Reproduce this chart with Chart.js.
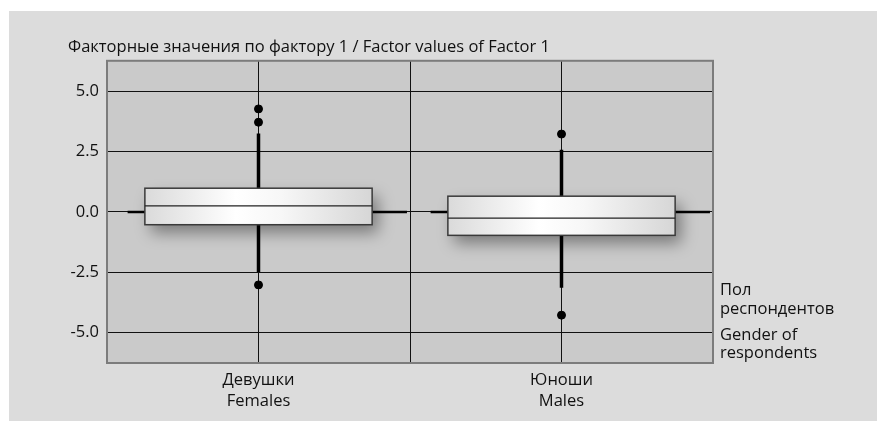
<!DOCTYPE html>
<html><head><meta charset="utf-8">
<script src="https://cdn.jsdelivr.net/npm/chart.js@4.4.0/dist/chart.umd.min.js"></script>
<style>html,body{margin:0;padding:0;background:#dcdcdc;}canvas{display:block}</style>
</head><body>
<canvas id="c" width="877" height="421"></canvas>
<script>
// ---- data ----
const categories = [['Девушки', 'Females'], ['Юноши', 'Males']];
const whiskerLow  = [-2.49, -3.14];
const q1          = [-0.53, -0.97];
const median      = [0.25, -0.26];
const q3          = [0.98, 0.65];
const whiskerHigh = [3.24, 2.57];
const outliers    = [[4.26, 3.71, -3.02], [3.22, -4.27]];
const yTicks      = [-5, -2.5, 0, 2.5, 5];
const titleText   = 'Факторные значения по фактору 1 / Factor values of Factor 1';
const sideLabels  = [['Пол', 'респондентов'], ['Gender of', 'respondents']];

const FONT = '"Open Sans", sans-serif';
const FS = 16.5;
const BOX_HALF = 0.375;

// ---- datasets ----
const datasets = [];
categories.forEach((c, i) => {
  datasets.push({type: 'line', data: [{x: i - 0.432, y: 0}, {x: i + 0.49, y: 0}],
    borderColor: '#000', borderWidth: 2.5, pointRadius: 0, order: 3});
});
categories.forEach((c, i) => {
  datasets.push({type: 'line', data: [{x: i, y: q3[i]}, {x: i, y: whiskerHigh[i]}],
    borderColor: '#000', borderWidth: 3.5, pointRadius: 0, borderCapStyle: 'butt', order: 2});
  datasets.push({type: 'line', data: [{x: i, y: q1[i]}, {x: i, y: whiskerLow[i]}],
    borderColor: '#000', borderWidth: 3.5, pointRadius: 0, borderCapStyle: 'butt', order: 2});
});
datasets.push({type: 'scatter',
  data: outliers.flatMap((arr, i) => arr.map(v => ({x: i, y: v}))),
  backgroundColor: '#000', borderColor: '#000', pointRadius: 4, order: 1});

const bgPlugin = {
  id: 'bg',
  beforeDraw(chart) {
    const ctx = chart.ctx, a = chart.chartArea;
    ctx.save();
    ctx.fillStyle = '#ffffff';
    ctx.fillRect(0, 0, chart.width, chart.height);
    ctx.fillStyle = '#dcdcdc';
    ctx.fillRect(9, 11, chart.width - 9, chart.height - 11);
    ctx.fillStyle = '#cacaca';
    ctx.fillRect(a.left, a.top, a.right - a.left, a.bottom - a.top);
    ctx.restore();
  },
  beforeDatasetsDraw(chart) {
    const ctx = chart.ctx, a = chart.chartArea;
    ctx.save();
    ctx.strokeStyle = '#7c7c7c';
    ctx.lineWidth = 2;
    ctx.strokeRect(a.left, a.top, a.right - a.left, a.bottom - a.top);
    ctx.restore();
  }
};

const boxPlugin = {
  id: 'boxes',
  afterDatasetsDraw(chart) {
    const ctx = chart.ctx, xs = chart.scales.x, ys = chart.scales.y;
    categories.forEach((c, i) => {
      const x0 = xs.getPixelForValue(i - BOX_HALF), x1 = xs.getPixelForValue(i + BOX_HALF);
      const yt = ys.getPixelForValue(q3[i]), yb = ys.getPixelForValue(q1[i]);
      const ym = ys.getPixelForValue(median[i]);
      ctx.save();
      const g = ctx.createLinearGradient(x0, 0, x1, 0);
      g.addColorStop(0, '#dadada');
      g.addColorStop(0.4, '#ffffff');
      g.addColorStop(0.6, '#f7f7f7');
      g.addColorStop(1, '#d6d6d6');
      ctx.shadowColor = 'rgba(0,0,0,0.4)';
      ctx.shadowBlur = 16;
      ctx.shadowOffsetX = 6;
      ctx.shadowOffsetY = 8;
      ctx.fillStyle = g;
      ctx.fillRect(x0, yt, x1 - x0, yb - yt);
      ctx.restore();
      ctx.save();
      ctx.strokeStyle = '#3a3a3a';
      ctx.lineWidth = 1.5;
      ctx.strokeRect(x0, yt, x1 - x0, yb - yt);
      ctx.strokeStyle = '#222';
      ctx.lineWidth = 1.3;
      ctx.beginPath();
      ctx.moveTo(x0, ym); ctx.lineTo(x1, ym);
      ctx.stroke();
      ctx.restore();
    });
  }
};

const sidePlugin = {
  id: 'side',
  afterDraw(chart) {
    const ctx = chart.ctx;
    ctx.save();
    ctx.fillStyle = '#111';
    ctx.font = FS + 'px ' + FONT;
    ctx.textBaseline = 'middle';
    ctx.textAlign = 'left';
    const ys = [[290, 309], [335, 353]];
    sideLabels.forEach((lines, k) => lines.forEach((t, j) => ctx.fillText(t, 720, ys[k][j])));
    ctx.restore();
  }
};

new Chart(document.getElementById('c'), {
  data: {datasets},
  options: {
    responsive: false,
    animation: false,
    devicePixelRatio: 1,
    layout: {padding: {top: 27, left: 68, right: 164, bottom: 0}},
    plugins: {
      legend: {display: false},
      tooltip: {enabled: false},
      title: {display: true, text: titleText, align: 'start', color: '#111',
        font: {family: FONT, size: FS, weight: 'normal', lineHeight: 1.2},
        padding: {top: 10, bottom: 4}}
    },
    scales: {
      x: {type: 'linear', min: -0.5, max: 1.5,
        afterFit(s) { s.height = 58; },
        border: {display: false},
        grid: {color: ctx => (ctx.tick && (ctx.tick.value === -0.5 || ctx.tick.value === 1.5)) ? 'rgba(0,0,0,0)' : '#111',
               lineWidth: 1, drawTicks: false},
        ticks: {stepSize: 0.5, autoSkip: false, maxRotation: 0, padding: 7, color: '#111',
          font: {family: FONT, size: FS, lineHeight: 1.27},
          callback: v => (Number.isInteger(v) && categories[v]) ? categories[v] : ''}
      },
      y: {type: 'linear', min: -6.25, max: 6.25,
        afterFit(s) { s.width = 39; },
        afterBuildTicks(s) { s.ticks = yTicks.map(v => ({value: v})); },
        border: {display: false},
        grid: {color: '#111', lineWidth: 1, drawTicks: false},
        ticks: {padding: 8, color: '#111', font: {family: FONT, size: FS},
          callback: v => v.toFixed(1)}
      }
    }
  },
  plugins: [bgPlugin, boxPlugin, sidePlugin]
});
</script>
</body></html>
